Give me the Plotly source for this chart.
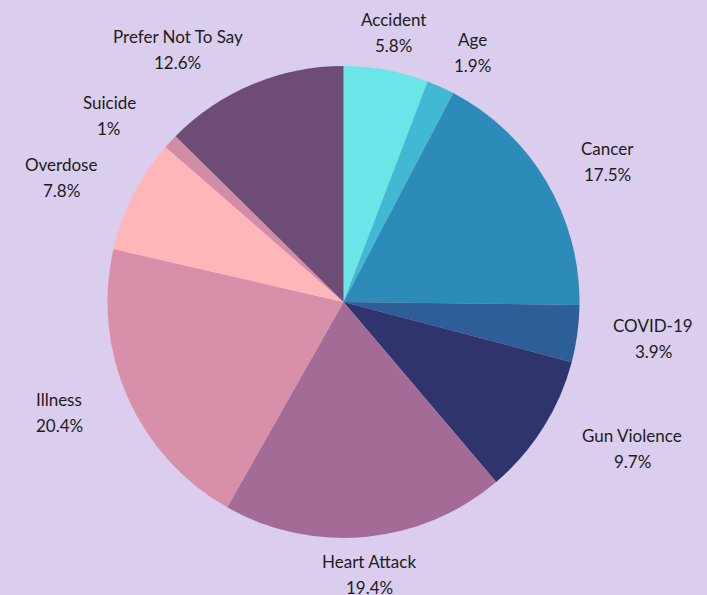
import math
import plotly.graph_objects as go

# Causes and their share of responses (percent)
causes = ["Accident", "Age", "Cancer", "COVID-19", "Gun Violence",
          "Heart Attack", "Illness", "Overdose", "Suicide", "Prefer Not To Say"]
shares = [5.8, 1.9, 17.5, 3.9, 9.7, 19.4, 20.4, 7.8, 1.0, 12.6]
share_labels = ["5.8%", "1.9%", "17.5%", "3.9%", "9.7%",
                "19.4%", "20.4%", "7.8%", "1%", "12.6%"]
colors = ["#6CE5E8", "#42B8D5", "#2D8BBA", "#2E5E98", "#2F346C",
          "#A46B96", "#D78FAA", "#FFB6B9", "#D38CA6", "#6D4C75"]

W, H = 707, 595
BG = "#DBCDEE"
FONT = "Lato, Roboto, sans-serif"
FONT_SIZE = 17

# pie placement in pixels
cx, cy, R = 343.5, 302.0, 236.0
dom_x = [(cx - R) / W, (cx + R) / W]
dom_y = [1 - (cy + R) / H, 1 - (cy - R) / H]

fig = go.Figure(go.Pie(
    labels=causes,
    values=shares,
    sort=False,
    direction="clockwise",
    rotation=0,
    marker=dict(colors=colors, line=dict(width=0)),
    textinfo="none",
    hoverinfo="label+percent",
    showlegend=False,
    domain=dict(x=dom_x, y=dom_y),
))

# outside labels: centred on each slice's mid-angle ray, pushed sideways
# by half their width on the left/right flanks of the pie
LABEL_R = 274
total = sum(shares)
cum = 0.0
annotations = []
for name, val, pct in zip(causes, shares, share_labels):
    mid = (cum + val / 2) / total * 2 * math.pi
    cum += val
    s, c = math.sin(mid), math.cos(mid)
    width = 9.5 * max(len(name), len(pct))
    side = min(max((abs(s) - 0.2) / 0.25, 0.0), 1.0)
    px = cx + LABEL_R * s + math.copysign(width / 2 * side, s)
    py = cy - LABEL_R * c
    for txt, shift in ((name, 13), (pct, -13)):
        annotations.append(dict(
            x=px / W, y=1 - py / H, xref="paper", yref="paper",
            text=txt, showarrow=False, xanchor="center", yanchor="middle",
            yshift=shift, font=dict(family=FONT, size=FONT_SIZE, color="#1c1c1c"),
        ))

fig.update_layout(
    width=W, height=H,
    margin=dict(l=0, r=0, t=0, b=0),
    paper_bgcolor=BG, plot_bgcolor=BG,
    annotations=annotations,
)

fig.write_html("out.html")
